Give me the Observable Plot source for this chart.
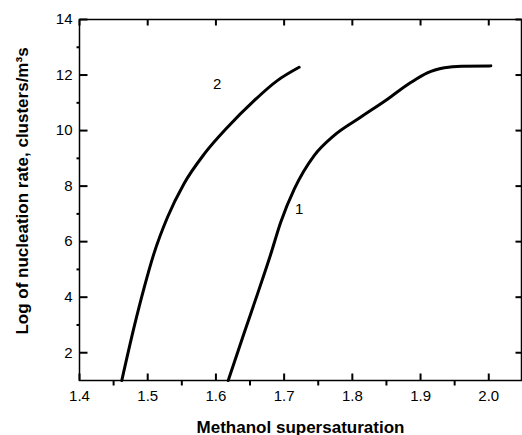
<!DOCTYPE html>
<html><head><meta charset="utf-8">
<script src="https://cdn.jsdelivr.net/npm/d3@7"></script>
<script src="https://cdn.jsdelivr.net/npm/@observablehq/plot@0.6"></script>
<style>body{margin:0;background:#fff}</style>
</head><body><div id="chart"></div>
<script>
// Curve 1
const curve1X = [1.618, 1.641, 1.661, 1.680, 1.695, 1.715, 1.744, 1.773, 1.812, 1.852, 1.885, 1.910, 1.935, 1.960, 2.003];
const curve1Y = [1.0, 2.68, 4.12, 5.52, 6.70, 7.90, 9.10, 9.82, 10.48, 11.14, 11.72, 12.08, 12.26, 12.32, 12.33];
// Curve 2
const curve2X = [1.462, 1.480, 1.495, 1.509, 1.529, 1.553, 1.583, 1.617, 1.656, 1.690, 1.722];
const curve2Y = [1.0, 2.92, 4.36, 5.56, 6.88, 8.08, 9.16, 10.12, 11.08, 11.80, 12.28];
// Curve labels
const labelNames = ["1", "2"];
const labelX = [1.722, 1.602];
const labelY = [7.18, 11.68];
// Ticks
const xMajor = [1.4, 1.5, 1.6, 1.7, 1.8, 1.9, 2.0];
const xMinor = [1.45, 1.55, 1.65, 1.75, 1.85, 1.95];
const yMajor = [2, 4, 6, 8, 10, 12, 14];
const yMinor = [3, 5, 7, 9, 11, 13];
const xTitle = "Methanol supersaturation";
const yTitle = "Log of nucleation rate, clusters/m³s";

const line1 = curve1X.map((x, i) => ({x, y: curve1Y[i]}));
const line2 = curve2X.map((x, i) => ({x, y: curve2Y[i]}));
const labels = labelNames.map((t, i) => ({t, x: labelX[i], y: labelY[i]}));
const tickRows = (vals, a, b) => vals.map(v => ({v, a, b}));

const W = 522, H = 435, ML = 79, MR = 1, MT = 19, MB = 55;
const xDom = [1.4, 2.048], yDom = [1, 14];
const PW = W - ML - MR, PH = H - MT - MB;
// pixel -> data unit conversions for tick lengths
const px = PW / (xDom[1] - xDom[0]), py = PH / (yDom[1] - yDom[0]);
const tk = {stroke: "black", strokeWidth: 2};

const chart = Plot.plot({
  width: W, height: H,
  marginLeft: ML, marginRight: MR, marginTop: MT, marginBottom: MB,
  x: {domain: xDom},
  y: {domain: yDom},
  style: {fontFamily: "'Liberation Sans', Arial, sans-serif", fontSize: "15px", color: "black", background: "white"},
  marks: [
    Plot.axisY(yMajor, {anchor: "left", tickSize: 0, tickPadding: 7, label: null, fontSize: 15, fill: "black"}),
    Plot.axisX(xMajor, {anchor: "bottom", tickSize: 0, tickPadding: 10, tickFormat: d3.format(".1f"), label: null, fontSize: 15, fill: "black"}),
    // left: major inward, minor outward
    Plot.link(tickRows(yMajor, xDom[0], xDom[0] + 8 / px), {x1: "a", x2: "b", y1: "v", y2: "v", ...tk}),
    Plot.link(tickRows(yMinor, xDom[0] - 3 / px, xDom[0]), {x1: "a", x2: "b", y1: "v", y2: "v", ...tk}),
    // right: major inward
    Plot.link(tickRows(yMajor, xDom[1] - 6 / px, xDom[1]), {x1: "a", x2: "b", y1: "v", y2: "v", ...tk}),
    // bottom: major inward, minor outward
    Plot.link(tickRows(xMajor, yDom[0], yDom[0] + 7 / py), {x1: "v", x2: "v", y1: "a", y2: "b", ...tk}),
    Plot.link(tickRows(xMinor, yDom[0] - 5 / py, yDom[0]), {x1: "v", x2: "v", y1: "a", y2: "b", ...tk}),
    // top: major inward
    Plot.link(tickRows(xMajor, yDom[1] - 6 / py, yDom[1]), {x1: "v", x2: "v", y1: "a", y2: "b", ...tk}),
    Plot.frame({stroke: "black", strokeWidth: 1.5}),
    Plot.line(line1, {x: "x", y: "y", curve: "monotone-x", stroke: "black", strokeWidth: 3}),
    Plot.line(line2, {x: "x", y: "y", curve: "monotone-x", stroke: "black", strokeWidth: 3}),
    Plot.text(labels, {x: "x", y: "y", text: "t", fontSize: 15, fill: "black"}),
    Plot.text([xTitle], {frameAnchor: "bottom", dy: 52, fontSize: 17, fontWeight: "bold", fill: "black"}),
    Plot.text([yTitle], {frameAnchor: "left", textAnchor: "middle", dx: -57, dy: -9, rotate: -90, fontSize: 17, fontWeight: "bold", fill: "black"})
  ]
});
document.getElementById("chart").appendChild(chart);
</script>
</body></html>
